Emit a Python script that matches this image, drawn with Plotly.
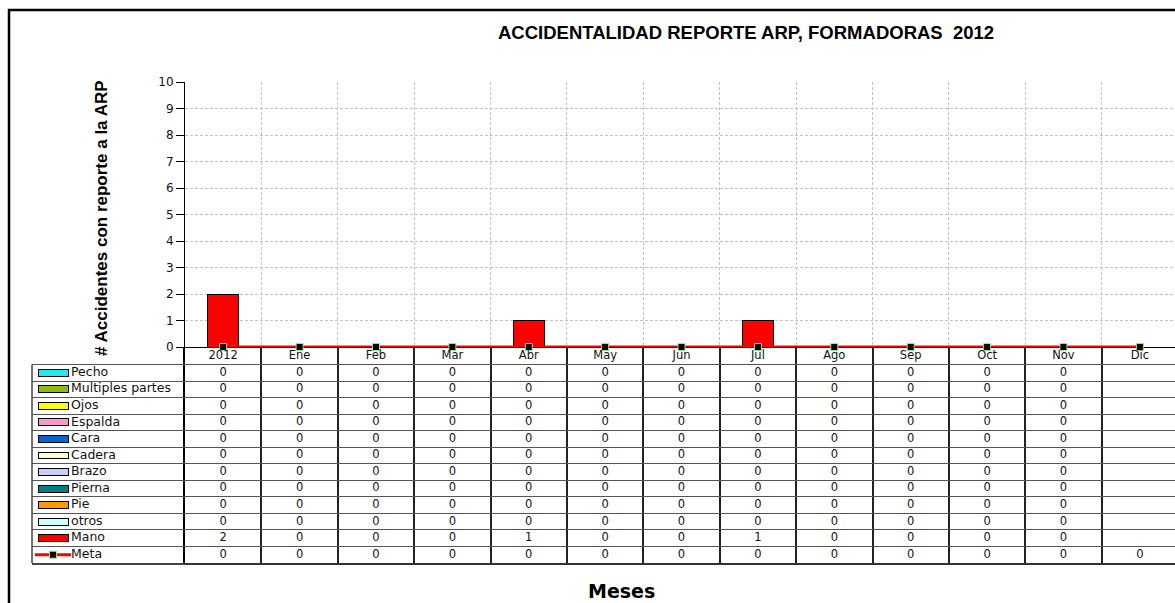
import plotly.graph_objects as go

W, H = 1175, 603

categories = ["2012", "Ene", "Feb", "Mar", "Abr", "May", "Jun", "Jul", "Ago", "Sep", "Oct", "Nov", "Dic"]
series_names = ["Pecho", "Multiples partes", "Ojos", "Espalda", "Cara", "Cadera", "Brazo",
                "Pierna", "Pie", "otros", "Mano"]
series_colors = ["#22E8F0", "#8DBB10", "#FFFF00", "#FF99CC", "#0066CC", "#FFFFCC", "#CCCCFF",
                 "#008080", "#FF9900", "#CCFFFF", "#FF0000"]
zeros = [0, 0, 0, 0, 0, 0, 0, 0, 0, 0, 0, 0, None]
series_values = {
    "Pecho": zeros, "Multiples partes": zeros, "Ojos": zeros, "Espalda": zeros,
    "Cara": zeros, "Cadera": zeros, "Brazo": zeros, "Pierna": zeros, "Pie": zeros,
    "otros": zeros,
    "Mano": [2, 0, 0, 0, 1, 0, 0, 1, 0, 0, 0, 0, None],
}
meta_name = "Meta"
meta_values = [0, 0, 0, 0, 0, 0, 0, 0, 0, 0, 0, 0, 0]
y_ticks = [0, 1, 2, 3, 4, 5, 6, 7, 8, 9, 10]

FONT = "Liberation Sans, Arial, sans-serif"
TFONT = "DejaVu Sans, Liberation Sans, sans-serif"

def px_x(p):
    return p / W

def px_y(p):
    return (H - p) / H

fig = go.Figure()

# --- main chart ---
for name, color in zip(series_names, series_colors):
    fig.add_trace(go.Bar(x=categories, y=series_values[name], name=name,
                         marker=dict(color=color, line=dict(color="black", width=1)),
                         width=0.4, xaxis="x", yaxis="y", showlegend=False, hoverinfo="x+y+name"))
fig.add_trace(go.Scatter(x=categories, y=meta_values, name=meta_name, mode="lines+markers",
                         line=dict(color="#FF0000", width=3),
                         marker=dict(symbol="square", size=7, color="black",
                                     line=dict(color="#9BE39B", width=1)),
                         cliponaxis=False, xaxis="x", yaxis="y", showlegend=False))

# --- table: header and values ---
all_rows = series_names + [meta_name]
all_vals = [series_values[n] for n in series_names] + [meta_values]
tx, ty, tt = [], [], []
for j, c in enumerate(categories):
    tx.append(c); ty.append(0); tt.append(c)
for i, vals in enumerate(all_vals):
    for c, v in zip(categories, vals):
        tx.append(c); ty.append(i + 1); tt.append("" if v is None else str(v))
fig.add_trace(go.Scatter(x=tx, y=ty, text=tt, mode="text", xaxis="x2", yaxis="y2",
                         textfont=dict(family=TFONT, size=11.5, color="#111"),
                         showlegend=False, hoverinfo="skip"))

# --- legend column (swatches + names) ---
fig.add_trace(go.Bar(orientation="h", y=list(range(1, len(series_names) + 1)),
                     x=[30] * len(series_names), base=6, width=0.42,
                     marker=dict(color=series_colors, line=dict(color="black", width=1)),
                     xaxis="x3", yaxis="y2", showlegend=False, hoverinfo="skip"))
meta_row = len(all_rows)
fig.add_trace(go.Scatter(x=[3, 21, 39], y=[meta_row] * 3, mode="lines",
                         line=dict(color="#FF0000", width=3),
                         xaxis="x3", yaxis="y2", showlegend=False, hoverinfo="skip"))
fig.add_trace(go.Scatter(x=[21], y=[meta_row], mode="markers",
                         marker=dict(symbol="square", size=7, color="black",
                                     line=dict(color="#9BE39B", width=1)),
                         xaxis="x3", yaxis="y2", showlegend=False, hoverinfo="skip"))
fig.add_trace(go.Scatter(x=[39] * len(all_rows), y=list(range(1, len(all_rows) + 1)),
                         text=all_rows, mode="text", textposition="middle right",
                         textfont=dict(family=TFONT, size=12.5, color="#111"),
                         xaxis="x3", yaxis="y2", showlegend=False, hoverinfo="skip"))

n_rows = len(all_rows)
fig.update_layout(
    width=W, height=H, autosize=False,
    margin=dict(l=0, r=0, t=0, b=0, pad=0, autoexpand=False),
    paper_bgcolor="white", plot_bgcolor="white",
    barmode="stack", showlegend=False,
    font=dict(family=TFONT, size=11, color="#111"),
    xaxis=dict(domain=[px_x(185), 1], range=[-0.5, 12.46], type="category",
               categoryorder="array", categoryarray=categories,
               tickson="boundaries", showgrid=True, gridcolor="#C4C4C4", griddash="3px,2px",
               gridwidth=1, showline=True, linecolor="black", linewidth=1,
               showticklabels=False, ticks="", zeroline=False, anchor="y",
               layer="below traces", automargin=False),
    yaxis=dict(domain=[px_y(347), px_y(82)], range=[0, 10], tickvals=y_ticks,
               showgrid=True, gridcolor="#C4C4C4", griddash="3px,2px", gridwidth=1,
               showline=True, linecolor="black", linewidth=1, ticks="outside", ticklen=8,
               tickcolor="black", tickfont=dict(family=TFONT, size=12, color="#111"),
               zeroline=False, anchor="x", layer="below traces", automargin=False),
    xaxis2=dict(matches="x", domain=[px_x(185), 1], type="category",
                tickson="boundaries", showgrid=True, gridcolor="#222", gridwidth=1.5,
                showline=True, linecolor="#333", linewidth=1.5, side="bottom",
                showticklabels=False, ticks="", zeroline=False, anchor="y2", automargin=False),
    yaxis2=dict(domain=[px_y(563), px_y(348)], range=[n_rows + 0.5, -0.5],
                tickvals=[k + 0.5 for k in range(n_rows)],
                showgrid=True, gridcolor="#555", gridwidth=1,
                showline=True, linecolor="black", linewidth=1.5,
                showticklabels=False, ticks="", zeroline=False, anchor="x2", automargin=False),
    xaxis3=dict(domain=[px_x(32), px_x(185)], range=[0, 153], showgrid=False,
                showline=True, linecolor="#444", linewidth=1.5, side="bottom",
                showticklabels=False, ticks="", zeroline=False, anchor="y2", automargin=False),
    shapes=[
        dict(type="rect", xref="paper", yref="paper", x0=px_x(9), x1=1.05,
             y0=-0.1, y1=px_y(10), line=dict(color="black", width=2.5)),
        dict(type="line", xref="x3 domain", yref="y2", x0=0, x1=0, y0=0.5, y1=n_rows + 0.5,
             line=dict(color="#444", width=1.5)),
    ],
    annotations=[
        dict(text="<b>ACCIDENTALIDAD REPORTE ARP, FORMADORAS  2012</b>", xref="paper", yref="paper",
             x=px_x(746), y=px_y(33), showarrow=False, xanchor="center", yanchor="middle",
             font=dict(family=FONT, size=18.5, color="black")),
        dict(text="<b># Accidentes con reporte a la ARP</b>", xref="paper", yref="paper",
             x=px_x(101), y=px_y(218), showarrow=False, textangle=-90,
             xanchor="center", yanchor="middle",
             font=dict(family=FONT, size=17, color="black")),
        dict(text="<b>Meses</b>", xref="paper", yref="paper",
             x=px_x(621), y=px_y(591), showarrow=False, xanchor="center", yanchor="middle",
             font=dict(family=TFONT, size=19, color="black")),
    ],
)

css_js = (
    "document.documentElement.style.margin='0';"
    "document.documentElement.style.padding='0';"
    "document.documentElement.style.overflow='hidden';"
    "document.body.style.margin='0';"
    "document.body.style.padding='0';"
    "document.body.style.overflow='hidden';"
)
fig.write_html("out.html", config={"displayModeBar": False}, post_script=css_js)
